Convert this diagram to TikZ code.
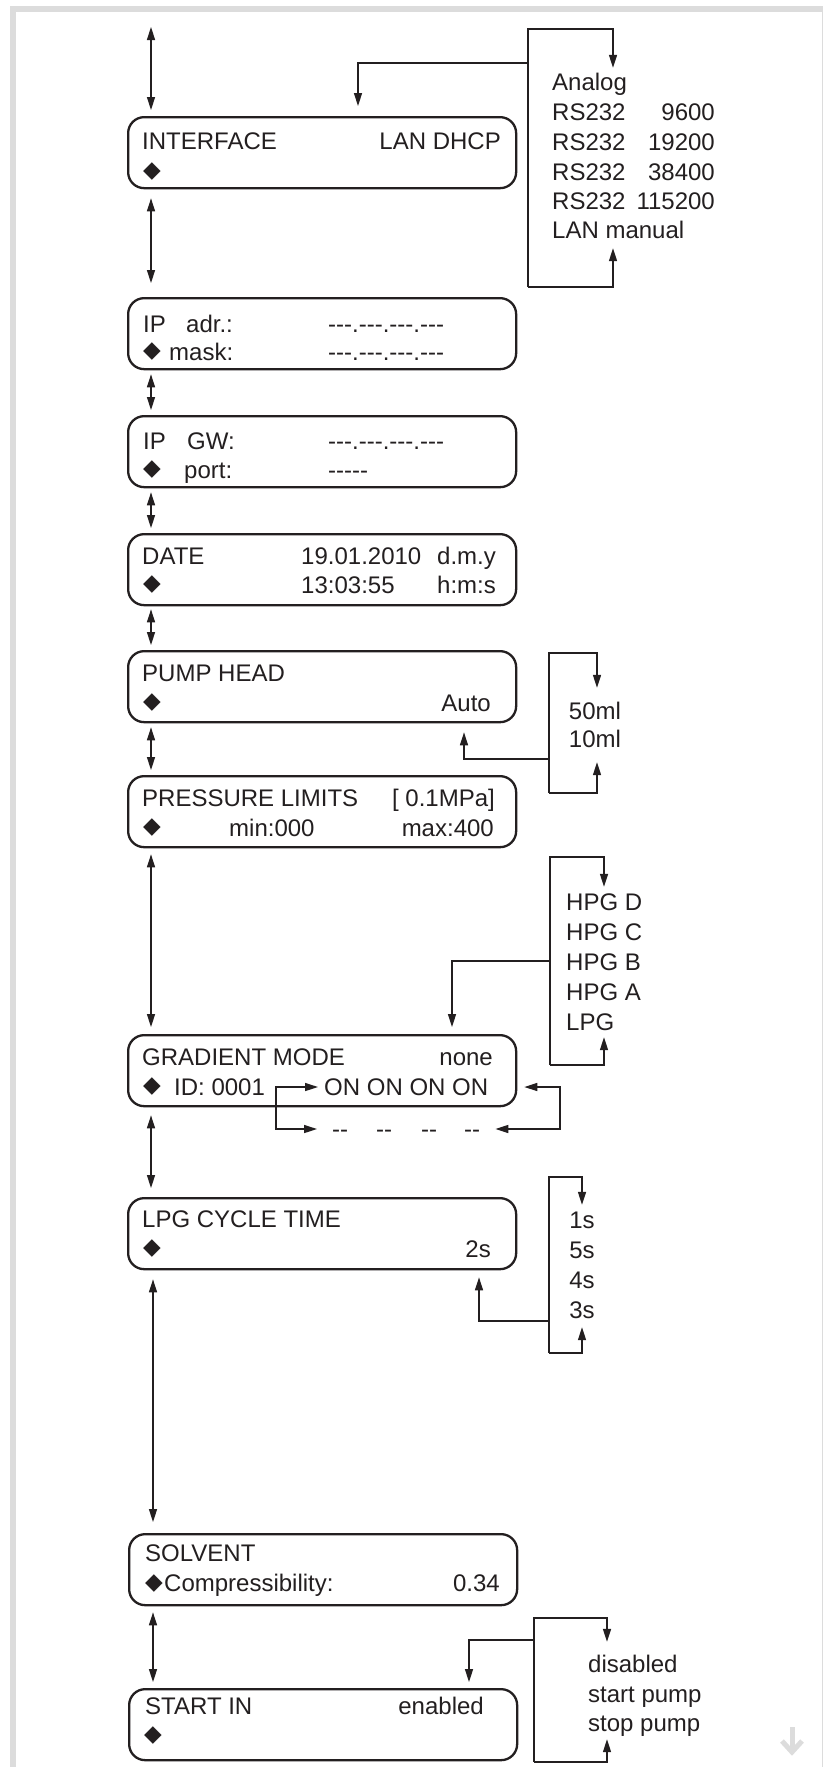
\documentclass[tikz,border=0pt]{standalone}
\usepackage{fontspec}
\newfontfamily\lib{Liberation Sans}
\newfontfamily\dvs{DejaVu Sans}
\usetikzlibrary{arrows.meta,calc}
\definecolor{ink}{HTML}{231F20}
\definecolor{framegrey}{HTML}{DCDCDC}
\begin{document}
\begin{tikzpicture}[x=1pt,y=-1pt,
 box/.style={draw=ink, line width=2.3pt, rounded corners=16pt, minimum width=388pt, minimum height=71pt, anchor=north west, inner sep=0pt},
 txt/.style={inner sep=0pt, font=\lib\fontsize{24}{29}\selectfont, text height=17.2pt, text depth=0pt, text=ink},
 lt/.style={txt, anchor=west}, rt/.style={txt, anchor=east}, ct/.style={txt, anchor=center},
 dia/.style={inner sep=0pt, font=\dvs\fontsize{23}{23}\selectfont, text=ink, anchor=center},
 conn/.style={draw=ink, line width=1.5pt},
 arrow end/.style={-{Triangle[length=13pt,width=8pt]}},
 dbl/.style={{Triangle[length=13pt,width=8pt]}-{Triangle[length=13pt,width=8pt]}},
]
\useasboundingbox (0,0) rectangle (823,1767);
\fill[white] (0,0) rectangle (823,1767);
% frame
\fill[framegrey] (10,6) rectangle (823,12);
\fill[framegrey] (10,6) rectangle (16,1767);
\fill[framegrey] (821.5,6) rectangle (823,1767);
\draw[framegrey, line width=5pt] (792,1727) -- (792,1750);
\draw[framegrey, line width=5pt, line join=miter] (782,1741) -- (792,1752) -- (802,1741);

% boxes
\node[box] (iface) at (127,116) {};
\node[box] (ip1) at (127,297) {};
\node[box] (ip2) at (127,415) {};
\node[box] (date) at (127,533) {};
\node[box] (pump) at (127,650) {};
\node[box] (press) at (127,775) {};
\node[box] (grad) at (127,1034) {};
\node[box] (lpg) at (127,1197) {};
\node[box] (solv) at (128,1533) {};
\node[box] (start) at (128,1688) {};

% texts INTERFACE
\node[lt] (t-if1) at (142,141) {INTERFACE};
\node[rt] (t-if2) at (501,141) {LAN DHCP};
\node[dia] (d-if) at (152,172) {◆};
% IP adr
\node[lt] (t-ip1a) at (143,324) {IP};
\node[lt] (t-ip1b) at (186,324) {adr.:};
\node[lt] (t-ip1c) at (328,324) {---.---.---.---};
\node[dia] (d-ip1) at (152,352) {◆};
\node[lt] (t-ip1d) at (169,352) {mask:};
\node[lt] (t-ip1e) at (328,352) {---.---.---.---};
% IP GW
\node[lt] (t-ip2a) at (143,441) {IP};
\node[lt] (t-ip2b) at (187,441) {GW:};
\node[lt] (t-ip2c) at (328,441) {---.---.---.---};
\node[dia] (d-ip2) at (152,470) {◆};
\node[lt] (t-ip2d) at (184,470) {port:};
\node[lt] (t-ip2e) at (328,470) {-----};
% DATE
\node[lt] (t-da1) at (142,556) {DATE};
\node[lt] (t-da2) at (301,556) {19.01.2010};
\node[lt] (t-da3) at (437,556) {d.m.y};
\node[dia] (d-da) at (152,585) {◆};
\node[lt] (t-da4) at (301,585) {13:03:55};
\node[lt] (t-da5) at (437,585) {h:m:s};
% PUMP HEAD
\node[lt] (t-pu1) at (142,673) {PUMP HEAD};
\node[dia] (d-pu) at (152,703) {◆};
\node[rt] (t-pu2) at (491,703) {Auto};
% PRESSURE
\node[lt] (t-pr1) at (142,798) {PRESSURE LIMITS};
\node[rt] (t-pr2) at (495,798) {[ 0.1MPa]};
\node[dia] (d-pr) at (152,828) {◆};
\node[lt] (t-pr3) at (229,828) {min:000};
\node[rt] (t-pr4) at (494,828) {max:400};
% GRADIENT
\node[lt] (t-gr1) at (142,1057) {GRADIENT MODE};
\node[rt] (t-gr2) at (493,1057) {none};
\node[dia] (d-gr) at (152,1087) {◆};
\node[lt] (t-gr3) at (174,1087) {ID: 0001};
\node[lt] (t-gr4) at (324,1087) {ON ON ON ON};
\node[lt] (t-gr5) at (332,1129) {--};
\node[lt] (t-gr6) at (376,1129) {--};
\node[lt] (t-gr7) at (421,1129) {--};
\node[lt] (t-gr8) at (464,1129) {--};
% LPG
\node[lt] (t-lp1) at (142,1219) {LPG CYCLE TIME};
\node[dia] (d-lp) at (152,1249) {◆};
\node[rt] (t-lp2) at (491,1249) {2s};
% SOLVENT
\node[lt] (t-so1) at (145,1553) {SOLVENT};
\node[dia] (d-so) at (154,1584) {◆};
\node[lt] (t-so2) at (164,1583) {Compressibility:};
\node[rt] (t-so3) at (500,1583) {0.34};
% START IN
\node[lt] (t-st1) at (145,1706) {START IN};
\node[rt] (t-st2) at (484,1706) {enabled};
\node[dia] (d-st) at (153,1736) {◆};

% option lists
\node[lt] (o-if1) at (552,82) {Analog};
\node[lt] (o-if2) at (552,112) {RS232};
\node[rt] (o-if2n) at (715,112) {9600};
\node[lt] (o-if3) at (552,142) {RS232};
\node[rt] (o-if3n) at (715,142) {19200};
\node[lt] (o-if4) at (552,172) {RS232};
\node[rt] (o-if4n) at (715,172) {38400};
\node[lt] (o-if5) at (552,201) {RS232};
\node[rt] (o-if5n) at (715,201) {115200};
\node[lt] (o-if6) at (552,230) {LAN manual};

\node[ct] (o-pu1) at (595,711) {50ml};
\node[ct] (o-pu2) at (595,739) {10ml};

\node[lt] (o-gr1) at (566,902) {HPG D};
\node[lt] (o-gr2) at (566,932) {HPG C};
\node[lt] (o-gr3) at (566,962) {HPG B};
\node[lt] (o-gr4) at (566,992) {HPG A};
\node[lt] (o-gr5) at (566,1022) {LPG};

\node[ct] (o-lp1) at (582,1220) {1s};
\node[ct] (o-lp2) at (582,1250) {5s};
\node[ct] (o-lp3) at (582,1280) {4s};
\node[ct] (o-lp4) at (582,1310) {3s};

\node[lt] (o-st1) at (588,1664) {disabled};
\node[lt] (o-st2) at (588,1694) {start pump};
\node[lt] (o-st3) at (588,1723) {stop pump};

% vertical navigation arrows
\coordinate (topend) at (151,27);
\draw[conn,dbl] (topend) -- ([xshift=24pt,yshift=6pt]iface.north west);
\draw[conn,dbl] ([xshift=24pt,yshift=-9pt]iface.south west) -- ([xshift=24pt,yshift=14pt]ip1.north west);
\draw[conn,dbl] ([xshift=24pt,yshift=-4pt]ip1.south west) -- ([xshift=24pt,yshift=5pt]ip2.north west);
\draw[conn,dbl] ([xshift=24pt,yshift=-4pt]ip2.south west) -- ([xshift=24pt,yshift=5pt]date.north west);
\draw[conn,dbl] ([xshift=24pt,yshift=-3pt]date.south west) -- ([xshift=24pt,yshift=5pt]pump.north west);
\draw[conn,dbl] ([xshift=24pt,yshift=-4pt]pump.south west) -- ([xshift=24pt,yshift=5pt]press.north west);
\draw[conn,dbl] ([xshift=24pt,yshift=-6pt]press.south west) -- ([xshift=24pt,yshift=7pt]grad.north west);
\draw[conn,dbl] ([xshift=24pt,yshift=-8pt]grad.south west) -- ([xshift=24pt,yshift=9pt]lpg.north west);
\draw[conn,dbl] ([xshift=26pt,yshift=-9pt]lpg.south west) -- ([xshift=25pt,yshift=11pt]solv.north west);
\draw[conn,dbl] ([xshift=25pt,yshift=-6pt]solv.south west) -- ([xshift=25pt,yshift=6pt]start.north west);

% INTERFACE bracket
\coordinate (ifb-tl) at (528,29);
\coordinate (ifb-tr) at (613,29);
\coordinate (ifb-bl) at (528,287);
\coordinate (ifb-br) at (613,287);
\coordinate (ifb-ret) at (528,63);
\draw[conn,arrow end] (ifb-bl) -- (ifb-tl) -- (ifb-tr) -- ([yshift=5.4pt]o-if1.north -| ifb-tr);
\draw[conn,arrow end] (ifb-bl) -- (ifb-br) -- ([yshift=-9.4pt]o-if6.south -| ifb-br);
\draw[conn,arrow end] (ifb-ret) -| ([xshift=231pt,yshift=10pt]iface.north west);

% PUMP bracket
\coordinate (pub-tl) at (549,653);
\coordinate (pub-tr) at (597,653);
\coordinate (pub-bl) at (549,793);
\coordinate (pub-br) at (597,793);
\coordinate (pub-ret) at (549,759);
\draw[conn,arrow end] (pub-bl) -- (pub-tl) -- (pub-tr) -- ([yshift=14.4pt]o-pu1.north -| pub-tr);
\draw[conn,arrow end] (pub-bl) -- (pub-br) -- ([yshift=-14.4pt]o-pu2.south -| pub-br);
\draw[conn,arrow end] (pub-ret) -| ([xshift=337pt,yshift=-9pt]pump.south west);

% GRADIENT bracket
\coordinate (grb-tl) at (550,857);
\coordinate (grb-tr) at (604,857);
\coordinate (grb-bl) at (550,1065);
\coordinate (grb-br) at (604,1065);
\coordinate (grb-ret) at (550,961);
\draw[conn,arrow end] (grb-bl) -- (grb-tl) -- (grb-tr) -- ([yshift=6.4pt]o-gr1.north -| grb-tr);
\draw[conn,arrow end] (grb-bl) -- (grb-br) -- ([yshift=-6.4pt]o-gr5.south -| grb-br);
\draw[conn,arrow end] (grb-ret) -| ([xshift=325pt,yshift=7pt]grad.north west);

% ID loops
\coordinate (idl-t) at (276,1087);
\coordinate (idl-b) at (276,1129);
\draw[conn,dbl] ([xshift=-6pt]t-gr4.west) -- (idl-t) -- (idl-b) -- ([xshift=-15pt]t-gr5.west);
\coordinate (idr-t) at (560,1087);
\coordinate (idr-b) at (560,1129);
\draw[conn,dbl] ([xshift=7pt]t-gr4.east -| grad.east) -- (idr-t) -- (idr-b) -- ([xshift=15pt]t-gr8.east);

% LPG bracket
\coordinate (lpb-tl) at (549,1177);
\coordinate (lpb-tr) at (582,1177);
\coordinate (lpb-bl) at (549,1353);
\coordinate (lpb-br) at (582,1353);
\coordinate (lpb-ret) at (549,1321);
\draw[conn,arrow end] (lpb-bl) -- (lpb-tl) -- (lpb-tr) -- ([yshift=6.4pt]o-lp1.north -| lpb-tr);
\draw[conn,arrow end] (lpb-bl) -- (lpb-br) -- ([yshift=-8.4pt]o-lp4.south -| lpb-br);
\draw[conn,arrow end] (lpb-ret) -| ([xshift=352pt,yshift=-7pt]lpg.south west);

% START bracket
\coordinate (stb-tl) at (534,1618);
\coordinate (stb-tr) at (607,1618);
\coordinate (stb-bl) at (534,1762);
\coordinate (stb-br) at (607,1762);
\coordinate (stb-ret) at (534,1640);
\draw[conn,arrow end] (stb-bl) -- (stb-tl) -- (stb-tr) -- ([yshift=13.4pt]o-st1.north -| stb-tr);
\draw[conn,arrow end] (stb-bl) -- (stb-br) -- ([yshift=-7.4pt]o-st3.south -| stb-br);
\draw[conn,arrow end] (stb-ret) -| ([xshift=341pt,yshift=6pt]start.north west);
\end{tikzpicture}
\end{document}
